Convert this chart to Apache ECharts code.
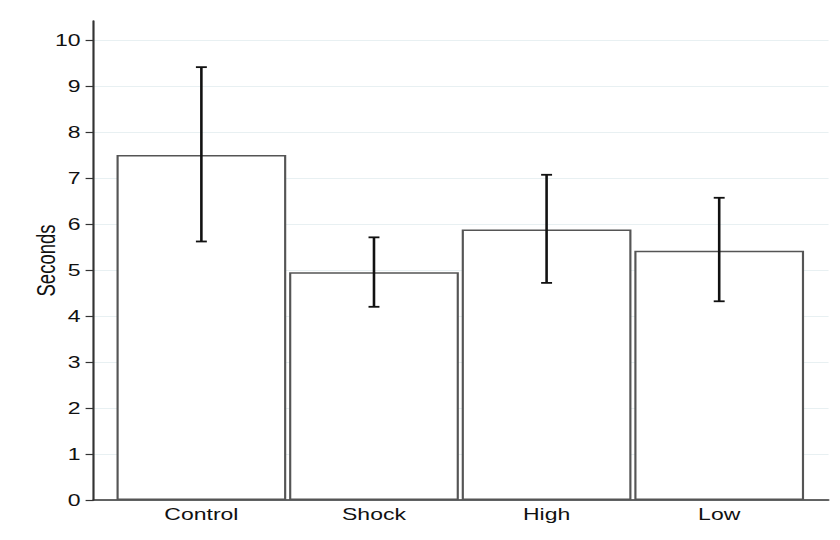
<!DOCTYPE html>
<html>
<head>
<meta charset="utf-8">
<script src="https://cdn.jsdelivr.net/npm/echarts@6/dist/echarts.min.js"></script>
<style>
    html, body { margin: 0; padding: 0; background: #fff; overflow: hidden; }
    /* 原图是横向拉伸过的，这里整体横向放大 */
    #main { width: 584px; height: 540px; transform: scaleX(1.4384); transform-origin: 0 0; }
</style>
</head>
<body>
<div id="main"></div>
<script>
var categories = ['Control', 'Shock', 'High', 'Low'];
var means = [7.5, 4.95, 5.88, 5.42];
var lower = [5.62, 4.2, 4.72, 4.32];
var upper = [9.41, 5.71, 7.07, 6.57];
var yTicks = [0, 1, 2, 3, 4, 5, 6, 7, 8, 9, 10];

var errData = [];
for (var i = 0; i < categories.length; i++) {
    errData.push([i, lower[i], upper[i]]);
}

var chart = echarts.init(document.getElementById('main'), null, { renderer: 'svg' });
var option;

option = {
    backgroundColor: '#fff',
    animation: false,
    grid: [
        // 坐标框
        { left: 65, right: 8, top: 21, bottom: 40 },
        // 刻度和网格线
        { left: 65, right: 8, top: 40, bottom: 40 },
        // 柱子
        { left: 80, right: 24, top: 40, bottom: 40 }
    ],
    xAxis: [{
        gridIndex: 0, type: 'value', min: 0, max: 1,
        axisLine: { show: true, lineStyle: { color: '#333', width: 1.5 } },
        axisTick: { show: false }, axisLabel: { show: false }, splitLine: { show: false }
    }, {
        gridIndex: 1, type: 'value', min: 0, max: 1, show: false
    }, {
        gridIndex: 2, type: 'category', data: categories,
        axisLine: { show: false }, axisTick: { show: false },
        axisLabel: { margin: 6, color: '#111', fontSize: 16, fontFamily: 'Liberation Sans' }
    }],
    yAxis: [{
        gridIndex: 0, type: 'value', min: 0, max: 1,
        name: 'Seconds', nameLocation: 'middle', nameGap: 24,
        nameTextStyle: { color: '#111', fontSize: 18.5, fontFamily: 'Liberation Sans' },
        axisLine: { show: true, lineStyle: { color: '#333', width: 1.5 } },
        axisTick: { show: false }, axisLabel: { show: false }, splitLine: { show: false }
    }, {
        gridIndex: 1, type: 'value', min: yTicks[0], max: yTicks[yTicks.length - 1], interval: 1,
        axisLine: { show: false },
        axisTick: { show: true, length: 5.5, lineStyle: { color: '#333', width: 1.2 } },
        axisLabel: { margin: 9, color: '#111', fontSize: 16, fontFamily: 'Liberation Sans' },
        splitLine: { show: true, lineStyle: { color: '#e8f0f2', width: 1 } }
    }, {
        gridIndex: 2, type: 'value', min: 0, max: 10, show: false
    }],
    series: [{
        type: 'bar',
        xAxisIndex: 2, yAxisIndex: 2,
        barWidth: 118,
        data: means,
        itemStyle: { color: '#fff', borderColor: '#555', borderWidth: 1.5 }
    }, {
        type: 'custom',
        xAxisIndex: 2, yAxisIndex: 2,
        data: errData,
        renderItem: function (params, api) {
            var top = api.coord([api.value(0), api.value(2)]);
            var bot = api.coord([api.value(0), api.value(1)]);
            var w = 3.8;
            var st = { stroke: '#111', lineWidth: 1.8 };
            return {
                type: 'group',
                children: [
                    { type: 'line', shape: { x1: top[0], y1: top[1], x2: bot[0], y2: bot[1] }, style: st },
                    { type: 'line', shape: { x1: top[0] - w, y1: top[1], x2: top[0] + w, y2: top[1] }, style: st },
                    { type: 'line', shape: { x1: bot[0] - w, y1: bot[1], x2: bot[0] + w, y2: bot[1] }, style: st }
                ]
            };
        },
        z: 5
    }]
};

if (option && typeof option === 'object') {
    chart.setOption(option);
}
</script>
</body>
</html>
